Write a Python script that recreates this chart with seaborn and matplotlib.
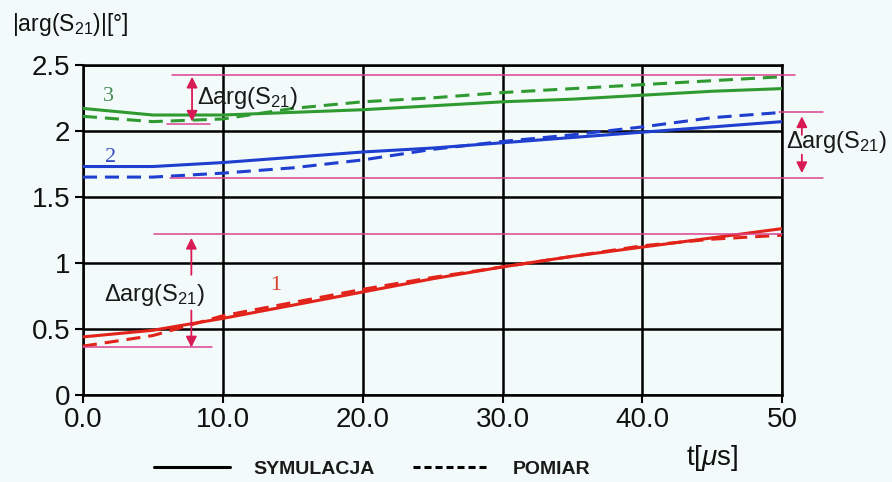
import matplotlib
matplotlib.use("Agg")
import matplotlib.pyplot as plt
import pandas as pd
import seaborn as sns
from matplotlib.lines import Line2D

# Time axis [us] and phase curves |arg(S21)| [deg]
t = [0, 5, 10, 15, 20, 25, 30, 35, 40, 45, 50]
sim_1 = [0.44, 0.49, 0.58, 0.68, 0.78, 0.88, 0.97, 1.05, 1.12, 1.19, 1.26]
meas_1 = [0.37, 0.45, 0.60, 0.70, 0.80, 0.89, 0.97, 1.05, 1.13, 1.18, 1.21]
sim_2 = [1.73, 1.73, 1.76, 1.80, 1.84, 1.87, 1.91, 1.95, 1.99, 2.03, 2.07]
meas_2 = [1.65, 1.65, 1.68, 1.72, 1.78, 1.86, 1.92, 1.97, 2.03, 2.10, 2.14]
sim_3 = [2.17, 2.12, 2.12, 2.14, 2.16, 2.19, 2.22, 2.24, 2.27, 2.30, 2.32]
meas_3 = [2.11, 2.07, 2.09, 2.17, 2.22, 2.25, 2.29, 2.32, 2.35, 2.38, 2.41]

curve_ids = ["1", "2", "3"]
kinds = ["SYMULACJA", "POMIAR"]
x_ticks = [0, 10, 20, 30, 40, 50]
x_tick_labels = ["0.0", "10.0", "20.0", "30.0", "40.0", "50"]
y_ticks = [0, 0.5, 1, 1.5, 2, 2.5]
y_tick_labels = ["0", "0.5", "1", "1.5", "2", "2.5"]

# Spread bounds of the delta-arg(S21) markers
delta_top = [2.42, 1.22, 2.14]
delta_bottom = [2.05, 0.36, 1.64]

sns.set_theme(style="white")
plt.rcParams["font.family"] = ["Liberation Sans", "DejaVu Sans"]
plt.rcParams["mathtext.fontset"] = "custom"
plt.rcParams["mathtext.rm"] = "Liberation Sans"
plt.rcParams["mathtext.it"] = "Liberation Sans:italic"
plt.rcParams["mathtext.bf"] = "Liberation Sans:bold"

bg = "#f3fafa"
pink = "#d9448f"
crimson = "#d81b55"

fig = plt.figure(figsize=(8.92, 4.82), dpi=100, facecolor=bg)
ax = fig.add_axes([0.093, 0.1805, 0.784, 0.685])
ax.set_facecolor(bg)

rows = []
for cid, sim, meas in zip(curve_ids, [sim_1, sim_2, sim_3], [meas_1, meas_2, meas_3]):
    for ti, s, m in zip(t, sim, meas):
        rows.append({"t": ti, "val": s, "curve": cid, "kind": kinds[0]})
        rows.append({"t": ti, "val": m, "curve": cid, "kind": kinds[1]})
df = pd.DataFrame(rows)

palette = {"1": "#e2231a", "2": "#1f3fd0", "3": "#2e9a30"}
dashes = {kinds[0]: "", kinds[1]: (4.6, 2.6)}
sns.lineplot(data=df, x="t", y="val", hue="curve", style="kind",
             palette=palette, dashes=dashes, linewidth=2.2,
             legend=False, ax=ax, zorder=3)

ax.set_xlim(0, 50)
ax.set_ylim(0, 2.5)
ax.set_xticks(x_ticks)
ax.set_xticklabels(x_tick_labels)
ax.set_yticks(y_ticks)
ax.set_yticklabels(y_tick_labels)
ax.set_xlabel("")
ax.set_ylabel("")
ax.grid(True, color="black", linewidth=1.8)
ax.set_axisbelow(True)
for sp in ax.spines.values():
    sp.set_visible(True)
    sp.set_color("black")
    sp.set_linewidth(1.8)
ax.tick_params(axis="both", direction="out", length=6, width=1.5,
               color="black", labelsize=20, labelcolor="#111111", pad=3,
               bottom=True, left=True)

# Delta bound lines
line_kw = dict(color=pink, linewidth=1.1, clip_on=False, zorder=4)
ax.plot([6.4, 50.9], [delta_top[0]] * 2, **line_kw)
ax.plot([6.0, 9.1], [delta_bottom[0]] * 2, **line_kw)
ax.plot([5.1, 50.0], [delta_top[1]] * 2, **line_kw)
ax.plot([0.0, 9.2], [delta_bottom[1]] * 2, **line_kw)
ax.plot([49.8, 52.9], [delta_top[2]] * 2, **line_kw)
ax.plot([6.2, 52.9], [delta_bottom[2]] * 2, **line_kw)

arrow_kw = dict(color=crimson, lw=1.3, mutation_scale=16, shrinkA=0, shrinkB=0)
label = r"$\Delta$arg(S$_{21}$)"

# curve 3 spread
ax.annotate("", xy=(7.8, delta_top[0] - 0.01), xytext=(7.8, delta_bottom[0] + 0.02),
            arrowprops=dict(arrowstyle="<|-|>", **arrow_kw), annotation_clip=False, zorder=5)
ax.text(8.15, 2.25, label, fontsize=17, ha="left", va="center", color="#1a1a1a", zorder=6)

# curve 1 spread
ax.annotate("", xy=(7.75, delta_top[1] - 0.03), xytext=(7.75, 0.91),
            arrowprops=dict(arrowstyle="-|>", **arrow_kw), annotation_clip=False, zorder=5)
ax.annotate("", xy=(7.75, delta_bottom[1]), xytext=(7.75, 0.64),
            arrowprops=dict(arrowstyle="-|>", **arrow_kw), annotation_clip=False, zorder=5)
ax.text(1.5, 0.76, label, fontsize=17, ha="left", va="center", color="#1a1a1a", zorder=6)

# curve 2 spread
ax.annotate("", xy=(51.4, delta_top[2] - 0.03), xytext=(51.4, 1.97),
            arrowprops=dict(arrowstyle="-|>", **arrow_kw), annotation_clip=False, zorder=5)
ax.annotate("", xy=(51.4, delta_bottom[2] + 0.04), xytext=(51.4, 1.82),
            arrowprops=dict(arrowstyle="-|>", **arrow_kw), annotation_clip=False, zorder=5)
ax.text(50.3, 1.915, label, fontsize=17, ha="left", va="center", color="#1a1a1a",
        zorder=6, clip_on=False)

# Curve numbers
num_kw = dict(family="Liberation Serif", fontsize=16, ha="center", va="center", zorder=6)
ax.text(1.8, 2.26, "3", color="#4a8a55", **num_kw)
ax.text(1.95, 1.80, "2", color="#3a4fc4", **num_kw)
ax.text(13.8, 0.83, "1", color="#d8402f", **num_kw)

# Axis titles
fig.text(12 / 892, 1 - 25 / 482, r"|arg(S$_{21}$)|[°]", fontsize=16.5,
         ha="left", va="center", color="#111111")
fig.text(712 / 892, 1 - 458 / 482, r"t[$\mu$s]", fontsize=20,
         ha="center", va="center", color="#111111")

handles = [Line2D([], [], color="black", lw=2.2),
           Line2D([], [], color="black", lw=2.2, dashes=(2.3, 1.3))]
fig.legend(handles, kinds, loc="center", bbox_to_anchor=(372 / 892, 1 - 469 / 482),
           ncol=2, frameon=False, prop=dict(family="Liberation Sans", weight="bold", size=14),
           handlelength=3.9, handletextpad=1.2, columnspacing=2.0, labelcolor="#1a1a1a")

fig.savefig("out.png", dpi=100, facecolor=bg)
